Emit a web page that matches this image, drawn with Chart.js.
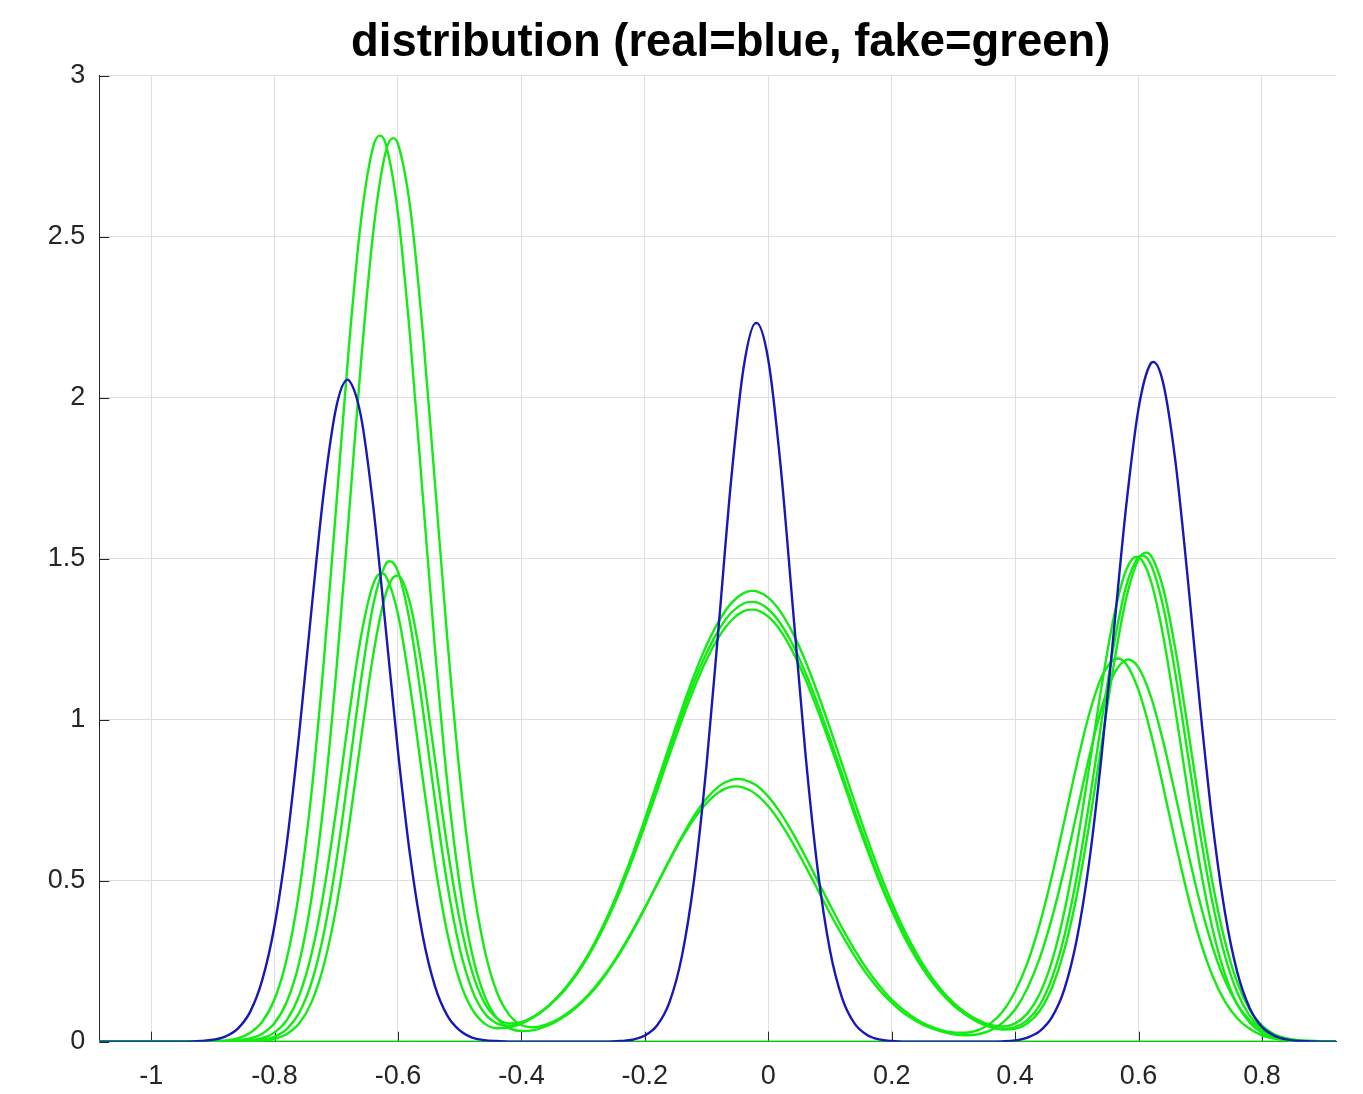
<!DOCTYPE html>
<html><head><meta charset="utf-8">
<script src="https://cdn.jsdelivr.net/npm/chart.js@4.4.1/dist/chart.umd.min.js"></script>
<style>html,body{margin:0;padding:0;background:#fff;}canvas{display:block;}</style>
</head><body>
<canvas id="c" width="1363" height="1094"></canvas>
<script>
// ---- data ----
const titleText = 'distribution (real=blue, fake=green)';
const xTicks = [-1, -0.8, -0.6, -0.4, -0.2, 0, 0.2, 0.4, 0.6, 0.8];
const xTickLabels = ['-1', '-0.8', '-0.6', '-0.4', '-0.2', '0', '0.2', '0.4', '0.6', '0.8'];
const yTicks = [0, 0.5, 1, 1.5, 2, 2.5, 3];
const yTickLabels = ['0', '0.5', '1', '1.5', '2', '2.5', '3'];

const xGrid = [-1.084,-1.06,-1.04,-1.02,-1.00,-0.98,-0.96,-0.94,-0.92,-0.90,
-0.88,-0.86,-0.84,-0.82,-0.80,-0.78,-0.76,-0.74,-0.72,-0.70,
-0.68,-0.66,-0.64,-0.62,-0.60,-0.58,-0.56,-0.54,-0.52,-0.50,
-0.48,-0.46,-0.44,-0.42,-0.40,-0.38,-0.36,-0.34,-0.32,-0.30,
-0.28,-0.26,-0.24,-0.22,-0.20,-0.18,-0.16,-0.14,-0.12,-0.10,
-0.08,-0.06,-0.04,-0.02,0.00,0.02,0.04,0.06,0.08,0.10,
0.12,0.14,0.16,0.18,0.20,0.22,0.24,0.26,0.28,0.30,
0.32,0.34,0.36,0.38,0.40,0.42,0.44,0.46,0.48,0.50,
0.52,0.54,0.56,0.58,0.60,0.62,0.64,0.66,0.68,0.70,
0.72,0.74,0.76,0.78,0.80,0.82,0.84,0.86,0.88,0.90,
0.92];

// real distribution (blue)
const realY = [0,0,0,0,0,0,0,0,0.002,0.006,
0.016,0.040,0.091,0.191,0.361,0.618,0.958,1.345,1.711,1.971,
2.055,1.942,1.661,1.286,0.902,0.573,0.330,0.172,0.081,0.035,
0.013,0.005,0.002,0,0,0,0,0,0,0,
0,0,0.002,0.006,0.019,0.051,0.123,0.265,0.506,0.859,
1.298,1.747,2.093,2.232,2.118,1.789,1.345,0.900,0.536,0.284,
0.134,0.056,0.021,0.007,0.002,0,0,0,0,0,
0,0,0,0.001,0.004,0.013,0.033,0.077,0.164,0.318,
0.557,0.885,1.274,1.663,1.966,2.107,2.045,1.799,1.434,1.036,
0.678,0.402,0.216,0.105,0.046,0.019,0.007,0.002,0.001,0,
0];
const realPeakX = [-0.6815, -0.019, 0.624];
const realPeakY = [2.056, 2.232, 2.111];

// fake distributions (green)
const fake1Y = [0,0,0,0,0,0,0,0,0,0.001,
0.004,0.010,0.027,0.062,0.132,0.259,0.468,0.777,1.186,1.665,
2.148,2.549,2.781,2.789,2.572,2.180,1.700,1.219,0.803,0.488,
0.274,0.144,0.074,0.042,0.033,0.036,0.048,0.067,0.092,0.126,
0.167,0.218,0.276,0.342,0.414,0.490,0.565,0.637,0.702,0.755,
0.793,0.813,0.814,0.797,0.761,0.710,0.647,0.576,0.500,0.425,
0.352,0.285,0.225,0.174,0.131,0.097,0.070,0.050,0.036,0.029,
0.028,0.036,0.057,0.094,0.156,0.245,0.366,0.517,0.687,0.861,
1.017,1.132,1.187,1.173,1.092,0.958,0.792,0.617,0.453,0.313,
0.204,0.125,0.073,0.040,0.020,0.010,0.005,0.002,0.001,0,
0];
const fake1PeakX = [-0.6293, -0.0486, 0.566];
const fake1PeakY = [2.814, 0.816, 1.19];

const fake2Y = [0,0,0,0,0,0,0,0,0,0,
0.001,0.004,0.010,0.025,0.058,0.125,0.246,0.448,0.748,1.149,
1.623,2.108,2.516,2.763,2.788,2.587,2.208,1.732,1.250,0.830,
0.508,0.289,0.155,0.084,0.052,0.045,0.053,0.070,0.096,0.129,
0.171,0.221,0.280,0.345,0.416,0.489,0.563,0.632,0.693,0.741,
0.775,0.792,0.789,0.769,0.731,0.679,0.616,0.546,0.473,0.399,
0.330,0.266,0.209,0.161,0.121,0.088,0.064,0.045,0.032,0.023,
0.020,0.023,0.035,0.059,0.100,0.166,0.260,0.386,0.539,0.711,
0.884,1.035,1.141,1.186,1.162,1.072,0.932,0.764,0.590,0.429,
0.294,0.190,0.116,0.066,0.036,0.018,0.009,0.004,0.002,0.001,
0];
const fake2PeakX = [-0.6078, -0.0523, 0.583];
const fake2PeakY = [2.806, 0.793, 1.187];

const fake3Y = [0,0,0,0,0,0,0,0,0,0,
0,0.001,0.004,0.011,0.029,0.068,0.144,0.273,0.468,0.722,
1.004,1.258,1.422,1.447,1.328,1.098,0.819,0.552,0.337,0.189,
0.101,0.057,0.042,0.044,0.056,0.077,0.105,0.142,0.188,0.244,
0.312,0.391,0.482,0.582,0.691,0.805,0.920,1.033,1.138,1.231,
1.306,1.362,1.393,1.399,1.379,1.335,1.268,1.183,1.083,0.974,
0.859,0.744,0.633,0.528,0.433,0.348,0.275,0.213,0.162,0.121,
0.090,0.067,0.052,0.047,0.057,0.088,0.149,0.252,0.406,0.610,
0.852,1.102,1.320,1.465,1.505,1.431,1.260,1.027,0.775,0.541,
0.350,0.210,0.116,0.060,0.028,0.012,0.005,0.002,0.001,0,
0];
const fake3PeakX = [-0.6266, -0.0253, 0.597];
const fake3PeakY = [1.455, 1.40, 1.506];

const fake4Y = [0,0,0,0,0,0,0,0,0,0,
0,0.001,0.002,0.006,0.016,0.040,0.090,0.184,0.338,0.559,
0.834,1.121,1.358,1.483,1.460,1.295,1.036,0.748,0.488,0.290,
0.161,0.089,0.057,0.050,0.059,0.078,0.105,0.141,0.187,0.243,
0.310,0.389,0.478,0.577,0.683,0.794,0.907,1.016,1.118,1.207,
1.280,1.332,1.361,1.365,1.343,1.298,1.232,1.147,1.049,0.941,
0.829,0.717,0.609,0.507,0.415,0.333,0.263,0.203,0.155,0.115,
0.085,0.062,0.046,0.038,0.040,0.057,0.096,0.169,0.287,0.455,
0.673,0.922,1.171,1.377,1.498,1.510,1.408,1.216,0.973,0.720,
0.493,0.313,0.184,0.100,0.050,0.023,0.010,0.004,0.002,0.001,
0];
const fake4PeakX = [-0.6131, -0.0269, 0.612];
const fake4PeakY = [1.492, 1.366, 1.519];

const fake5Y = [0,0,0,0,0,0,0,0,0,0,
0,0,0.001,0.003,0.009,0.024,0.057,0.123,0.239,0.418,
0.660,0.939,1.203,1.390,1.447,1.358,1.149,0.876,0.604,0.379,
0.218,0.121,0.073,0.057,0.061,0.077,0.104,0.139,0.184,0.239,
0.305,0.382,0.469,0.566,0.671,0.780,0.891,0.998,1.098,1.186,
1.257,1.308,1.337,1.341,1.320,1.276,1.210,1.127,1.030,0.925,
0.815,0.704,0.598,0.498,0.408,0.327,0.258,0.200,0.152,0.113,
0.084,0.061,0.046,0.040,0.045,0.067,0.114,0.199,0.330,0.513,
0.741,0.993,1.232,1.415,1.505,1.482,1.351,1.140,0.890,0.644,
0.431,0.267,0.153,0.081,0.040,0.018,0.008,0.003,0.001,0,
0];
const fake5PeakX = [-0.6023, -0.0269, 0.606];
const fake5PeakY = [1.447, 1.342, 1.51];

// flat green trace along zero
const fakeZeroX = [-1.084, 0.92];
const fakeZeroY = [0, 0];

// ---- build ----
function points(ys, px, py) {
  const a = xGrid.map((x, i) => ({x: x, y: ys[i]}));
  px.forEach((x, i) => a.push({x: x, y: py[i]}));
  a.sort((p, q) => p.x - q.x);
  return a;
}
const BLUE = '#1818b8';
const GREEN = '#12ec12';
const FONT = "'Liberation Sans', Arial, Helvetica, sans-serif";
const AXIS = '#262626';

function lineDs(data, color, order) {
  return {data: data, borderColor: color, borderWidth: 2.4, pointRadius: 0,
    fill: false, cubicInterpolationMode: 'monotone', order: order};
}
const datasets = [
  lineDs(points(realY, realPeakX, realPeakY), BLUE, 0),
  lineDs(points(fake1Y, fake1PeakX, fake1PeakY), GREEN, 1),
  lineDs(points(fake2Y, fake2PeakX, fake2PeakY), GREEN, 1),
  lineDs(points(fake3Y, fake3PeakX, fake3PeakY), GREEN, 1),
  lineDs(points(fake4Y, fake4PeakX, fake4PeakY), GREEN, 1),
  lineDs(points(fake5Y, fake5PeakX, fake5PeakY), GREEN, 1),
  lineDs(fakeZeroX.map((x, i) => ({x: x, y: fakeZeroY[i]})), GREEN, 2)
];

const innerTicks = {
  id: 'innerTicks',
  beforeDatasetsDraw(chart) {
    const ctx = chart.ctx, a = chart.chartArea;
    const xs = chart.scales.x, ys = chart.scales.y;
    ctx.save();
    ctx.strokeStyle = AXIS; ctx.lineWidth = 1;
    ctx.beginPath();
    xTicks.forEach(v => { const p = Math.round(xs.getPixelForValue(v)) + 0.5; ctx.moveTo(p, a.bottom); ctx.lineTo(p, a.bottom - 10); });
    yTicks.forEach(v => { const p = Math.round(ys.getPixelForValue(v)) + 0.5; ctx.moveTo(a.left, p); ctx.lineTo(a.left + 10, p); });
    ctx.stroke();
    ctx.restore();
  }
};

const titleDraw = {
  id: 'titleDraw',
  afterDraw(chart) {
    const ctx = chart.ctx, a = chart.chartArea;
    ctx.save();
    ctx.font = 'bold 45.4px ' + FONT;
    ctx.fillStyle = '#000';
    ctx.textAlign = 'center';
    ctx.textBaseline = 'alphabetic';
    ctx.fillText(titleText, (a.left + a.right) / 2 + 13, 56);
    ctx.restore();
  }
};

new Chart(document.getElementById('c'), {
  type: 'line',
  data: {datasets: datasets},
  plugins: [innerTicks, titleDraw],
  options: {
    responsive: false, animation: false, devicePixelRatio: 1,
    layout: {padding: {left: 0, right: 27, top: 75.7, bottom: 0}},
    plugins: {
      legend: {display: false}, tooltip: {enabled: false}, title: {display: false}
    },
    scales: {
      x: {type: 'linear', min: -1.084, max: 0.92,
        afterBuildTicks: s => { s.ticks = xTicks.map(v => ({value: v})); },
        afterFit: s => { s.height = 52.3; },
        ticks: {callback: (v, i) => xTickLabels[i], color: AXIS, padding: 19, maxRotation: 0, autoSkip: false,
          font: {family: FONT, size: 27}},
        grid: {color: '#dfdfdf', lineWidth: 1, drawTicks: false},
        border: {display: true, color: AXIS, width: 1}},
      y: {type: 'linear', min: 0, max: 3,
        afterBuildTicks: s => { s.ticks = yTicks.map(v => ({value: v})); },
        afterFit: s => { s.width = 99.3; },
        ticks: {callback: (v, i) => yTickLabels[i], color: AXIS, padding: 14, autoSkip: false,
          font: {family: FONT, size: 27}},
        grid: {color: '#dfdfdf', lineWidth: 1, drawTicks: false},
        border: {display: true, color: AXIS, width: 1}}
    }
  }
});
</script>
</body></html>
